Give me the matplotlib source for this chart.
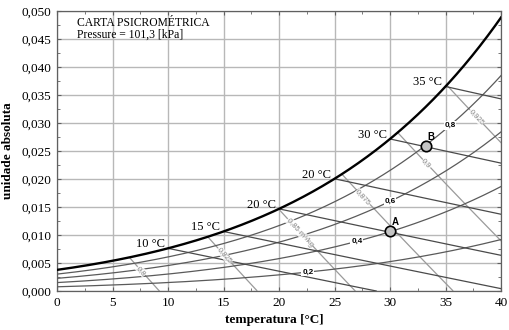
import numpy as np
import matplotlib
matplotlib.use("Agg")
import matplotlib.pyplot as plt
from matplotlib.ticker import MultipleLocator, FuncFormatter

# ── Datos de la carta ────────────────────────────────────────────────────────
P_ATM = 101.3                                   # kPa
RH_LEVELS = [0.2, 0.4, 0.6, 0.8]
RH_LABELS = ["0,2", "0,4", "0,6", "0,8"]
RH_LABEL_T = [22.6, 27.0, 30.0, 35.4]
WB_TEMPS = [10, 15, 20, 25, 30, 35]
WB_LABELS = ["10 °C", "15 °C", "20 °C", "20 °C", "30 °C", "35 °C"]
VOL_LEVELS = [0.800, 0.825, 0.850, 0.875, 0.900, 0.925]
VOL_LABELS = ["0,8", "0,825", "0,85 m³/kg", "0,875", "0,9", "0,925"]
VOL_LABEL_T = [7.6, 15.1, 21.9, 27.6, 33.3, 37.8]
PT_NAMES = ["A", "B"]
PT_T = [30.0, 33.2]
PT_W = [0.0107, 0.0259]

SERIF = "Liberation Serif"
SANS = "Liberation Sans"
C_RH = "#5a5a5a"
C_WB = "#4a4a4a"
C_VOL = "#9a9a9a"


def psat(t):
    return 0.61094 * np.exp(17.625 * t / (t + 243.04))


def w_rh(t, rh):
    pw = rh * psat(t)
    return 0.622 * pw / (P_ATM - pw)


def w_wb(t, twb):
    ws = w_rh(twb, 1.0)
    return ((2501 - 2.326 * twb) * ws - 1.006 * (t - twb)) / (2501 + 1.86 * t - 4.186 * twb)


def w_vol(t, v):
    return (v * P_ATM / (0.287 * (t + 273.15)) - 1) / 1.608


T = np.linspace(0, 40, 801)

fig = plt.figure(figsize=(5.1, 3.3), dpi=100)
ax = fig.add_axes([57 / 510, 1 - 291 / 330, 444 / 510, 280 / 330])
ax.set_xlim(0, 40)
ax.set_ylim(0, 0.05)

ax.xaxis.set_major_locator(MultipleLocator(5))
ax.xaxis.set_minor_locator(MultipleLocator(2.5))
ax.yaxis.set_major_locator(MultipleLocator(0.005))
ax.yaxis.set_minor_locator(MultipleLocator(0.0025))
ax.yaxis.set_major_formatter(FuncFormatter(lambda v, p: f"{v:.3f}".replace(".", ",")))
ax.grid(True, which="major", color="#b8b8b8", lw=1.0, zorder=0)
ax.tick_params(which="both", direction="in", top=True, right=True, color="#606060")
ax.tick_params(which="major", length=3, pad=4, labelsize=9.5)
ax.tick_params(which="minor", length=2)
for lab in ax.get_xticklabels() + ax.get_yticklabels():
    lab.set_fontfamily(SERIF)
for s in ax.spines.values():
    s.set_color("#606060")
    s.set_linewidth(0.9)

# saturación
ax.plot(T, w_rh(T, 1.0), color="black", lw=1.7, zorder=5)

# humedad relativa
for rh, lab, tl in zip(RH_LEVELS, RH_LABELS, RH_LABEL_T):
    ax.plot(T, w_rh(T, rh), color=C_RH, lw=0.9, zorder=3)
    ax.text(tl, w_rh(tl, rh), lab, ha="center", va="center", fontsize=5.8,
            fontweight="bold", family=SANS, zorder=6,
            bbox=dict(boxstyle="square,pad=0.1", fc="white", ec="none"))

# temperatura de bulbo húmedo
for twb, lab in zip(WB_TEMPS, WB_LABELS):
    tt = T[T >= twb]
    ww = w_wb(tt, twb)
    m = ww >= 0
    ax.plot(tt[m], ww[m], color=C_WB, lw=0.9, zorder=3)
    ax.text(twb - 0.3, w_rh(twb, 1.0) + 0.0002, lab, ha="right", va="baseline",
            fontsize=9, family=SERIF, zorder=6)

# volumen específico
for v, lab, tl in zip(VOL_LEVELS, VOL_LABELS, VOL_LABEL_T):
    ww = w_vol(T, v)
    m = (ww >= 0) & (ww <= w_rh(T, 1.0))
    ax.plot(T[m], ww[m], color=C_VOL, lw=0.9, zorder=2)
    p1 = ax.transData.transform((tl, w_vol(tl, v)))
    p2 = ax.transData.transform((tl + 0.5, w_vol(tl + 0.5, v)))
    ang = np.degrees(np.arctan2(p2[1] - p1[1], p2[0] - p1[0]))
    ax.text(tl, w_vol(tl, v), lab, ha="center", va="center", rotation=ang,
            rotation_mode="anchor", fontsize=5.5, color="#8a8a8a", family=SANS, zorder=4,
            bbox=dict(boxstyle="square,pad=0.05", fc="white", ec="none", alpha=0.8))

# puntos A y B
ax.plot(PT_T, PT_W, "o", ms=7.5, mfc="#c4c4c4", mec="black", mew=1.2, zorder=7)
for name, t, w in zip(PT_NAMES, PT_T, PT_W):
    ax.text(t + 0.5, w + 0.0016, name, ha="center", va="center", fontsize=7,
            fontweight="bold", family=SANS, zorder=7)

ax.text(1.8, 0.0474, "CARTA PSICROMÉTRICA", ha="left", va="baseline",
        fontsize=8.4, family=SERIF, zorder=6)
ax.text(1.8, 0.0453, "Pressure = 101,3 [kPa]", ha="left", va="baseline",
        fontsize=8.4, family=SERIF, zorder=6)

ax.set_xlabel("temperatura [°C]", fontsize=9.5, fontweight="bold", family=SERIF, va="center")
ax.xaxis.set_label_coords(0.489, -0.1036)
ax.set_ylabel("unidade absoluta", fontsize=9.5, fontweight="bold", family=SERIF, va="center")
ax.yaxis.set_label_coords(-0.110, 0.5)

fig.savefig("out.png", dpi=100, facecolor="white")
